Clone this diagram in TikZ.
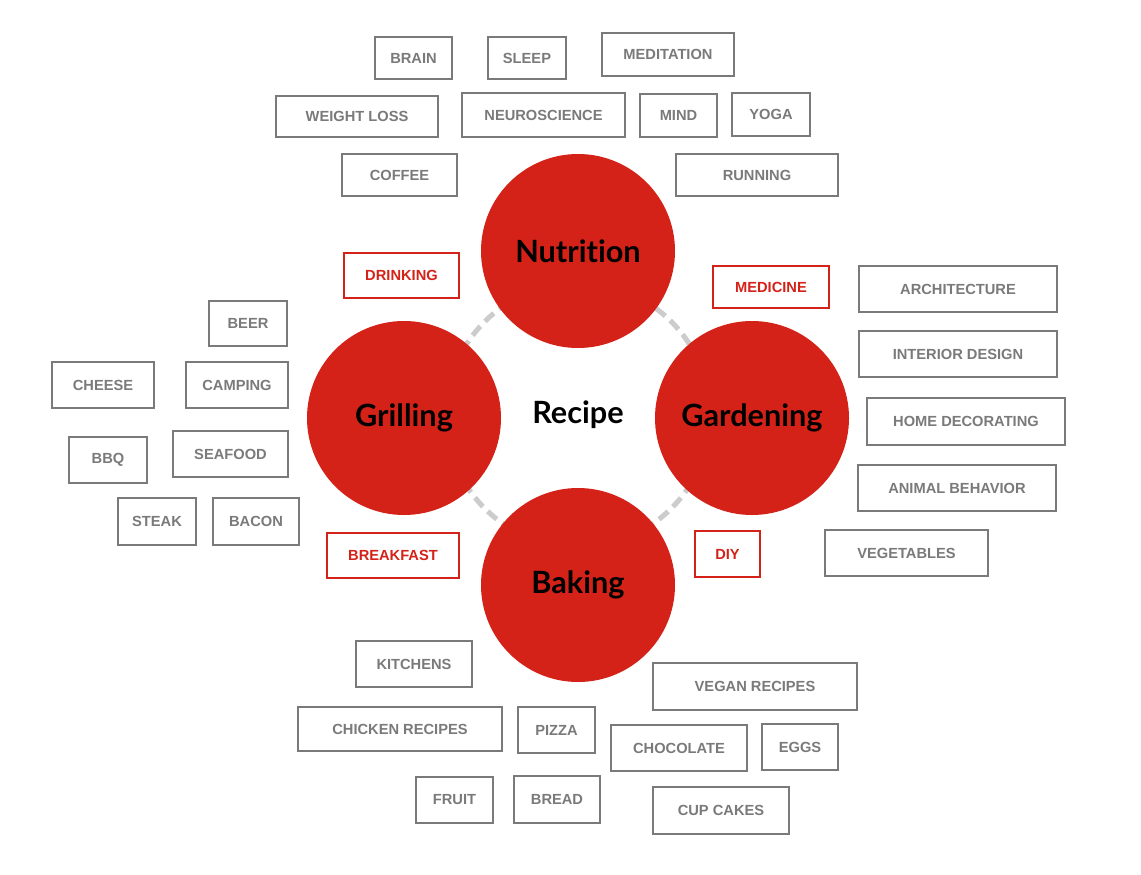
\documentclass[tikz,border=0pt]{standalone}
\usepackage{fontspec}
\setmainfont{Liberation Sans}
\newfontfamily\circfont[Ligatures={NoCommon}]{Lato}
\definecolor{hubred}{RGB}{213,34,24}
\definecolor{boxgray}{RGB}{122,122,122}
\definecolor{ringgray}{RGB}{204,204,204}
\newcommand\tagbox[7]{\node[#7, minimum width={(#4-#2)*0.75pt}, minimum height={(#5-#3)*0.75pt}] (#1) at ({(#2+#4)/2},{(#3+#5)/2}) {#6};}
\begin{document}
\begin{tikzpicture}[x=0.75pt,y=-0.75pt,
  gbox/.style={draw=boxgray, line width=2.2pt, fill=white, inner sep=0pt, text=boxgray, font=\fontsize{11}{13}\selectfont\bfseries},
  rbox/.style={draw=hubred, line width=1.9pt, fill=white, inner sep=0pt, text=hubred, font=\fontsize{11}{13}\selectfont\bfseries},
  hub/.style={circle, fill=hubred, minimum size=145.5pt, inner sep=0pt, text=black, font=\circfont\fontsize{23}{27}\selectfont\bfseries},
  centertext/.style={inner sep=0pt, text=black, font=\circfont\fontsize{23}{27}\selectfont\bfseries},
  ring/.style={draw=ringgray, line width=3.8pt, dash pattern=on 9pt off 5pt}
]
\useasboundingbox (0,0) rectangle (1141,874);
\node[centertext] (recipe) at (578,415) {Recipe};
\draw[ring] (recipe.center) circle[radius=99pt];
\node[hub] (nutrition) at (578,251) {Nutrition};
\node[hub] (grilling) at (404,418) {Grilling};
\node[hub] (gardening) at (752,418) {Gardening};
\node[hub] (baking) at (578,585) {Baking};
% top
\tagbox{brain}{375}{37}{452}{79}{BRAIN}{gbox}
\tagbox{sleep}{488}{37}{566}{79}{SLEEP}{gbox}
\tagbox{meditation}{602}{33}{734}{76}{MEDITATION}{gbox}
\tagbox{weightloss}{276}{96}{438}{137}{WEIGHT LOSS}{gbox}
\tagbox{neuro}{462}{93}{625}{137}{NEUROSCIENCE}{gbox}
\tagbox{mind}{640}{94}{717}{137}{MIND}{gbox}
\tagbox{yoga}{732}{93}{810}{136}{YOGA}{gbox}
\tagbox{coffee}{342}{154}{457}{196}{COFFEE}{gbox}
\tagbox{running}{676}{154}{838}{196}{RUNNING}{gbox}
% red
\tagbox{drinking}{344}{253}{459}{298}{DRINKING}{rbox}
\tagbox{medicine}{713}{266}{829}{308}{MEDICINE}{rbox}
\tagbox{breakfast}{327}{533}{459}{578}{BREAKFAST}{rbox}
\tagbox{diy}{695}{531}{760}{577}{DIY}{rbox}
% left
\tagbox{beer}{209}{301}{287}{346}{BEER}{gbox}
\tagbox{cheese}{52}{362}{154}{408}{CHEESE}{gbox}
\tagbox{camping}{186}{362}{288}{408}{CAMPING}{gbox}
\tagbox{bbq}{69}{437}{147}{483}{BBQ}{gbox}
\tagbox{seafood}{173}{431}{288}{477}{SEAFOOD}{gbox}
\tagbox{steak}{118}{498}{196}{545}{STEAK}{gbox}
\tagbox{bacon}{213}{498}{299}{545}{BACON}{gbox}
% right
\tagbox{architecture}{859}{266}{1057}{312}{ARCHITECTURE}{gbox}
\tagbox{interior}{859}{331}{1057}{377}{INTERIOR DESIGN}{gbox}
\tagbox{homedeco}{867}{398}{1065}{445}{HOME DECORATING}{gbox}
\tagbox{animal}{858}{465}{1056}{511}{ANIMAL BEHAVIOR}{gbox}
\tagbox{vegetables}{825}{530}{988}{576}{VEGETABLES}{gbox}
% bottom
\tagbox{kitchens}{356}{641}{472}{687}{KITCHENS}{gbox}
\tagbox{chicken}{298}{707}{502}{751}{CHICKEN RECIPES}{gbox}
\tagbox{pizza}{518}{707}{595}{753}{PIZZA}{gbox}
\tagbox{vegan}{653}{663}{857}{710}{VEGAN RECIPES}{gbox}
\tagbox{chocolate}{611}{725}{747}{771}{CHOCOLATE}{gbox}
\tagbox{eggs}{762}{724}{838}{770}{EGGS}{gbox}
\tagbox{fruit}{416}{777}{493}{823}{FRUIT}{gbox}
\tagbox{bread}{514}{776}{600}{823}{BREAD}{gbox}
\tagbox{cupcakes}{653}{787}{789}{834}{CUP CAKES}{gbox}
\end{tikzpicture}
\end{document}
